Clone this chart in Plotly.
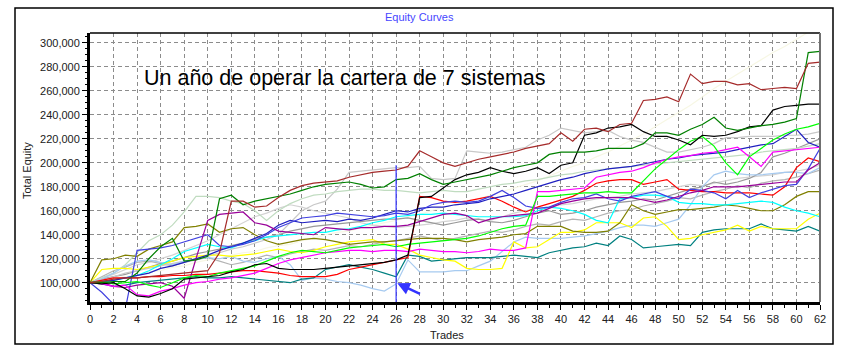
import plotly.graph_objects as go

TRADES = list(range(63))

# equity values in thousands, one value per trade 0..62
dark_red = [100,101,103,104,104,105,106,107,108,109,
            110,125,168,168,163,164,171,177,181,183,
            184,185,188,190,192,193,194,197,210,205,
            200,197,200,203,205,207,209,212,214,216,
            225,218,228,229,226,232,233,252,253,255,
            251,274,266,268,268,265,266,261,262,263,
            262,283,284]
dark_green = [100,100,101,101,108,120,130,137,118,119,
              122,170,173,165,168,170,172,174,177,180,
              182,183,184,182,179,180,186,187,191,186,
              182,184,186,188,190,193,196,198,200,207,
              209,209,209,210,212,212,212,216,225,225,
              223,228,232,238,229,227,229,231,232,234,
              237,292,293]
black = [100,99,100,95,89,88,91,95,103,104,
         105,106,109,111,115,116,112,111,111,111,
         112,113,114,115,116,117,119,123,171,172,
         179,186,190,192,196,193,191,193,196,191,
         198,200,223,225,229,230,232,226,222,222,
         219,215,223,222,223,226,230,231,244,247,
         248,249,249]
lime = [100,101,99,100,101,98,96,100,104,106,
        105,108,110,112,114,118,122,125,127,126,
        125,127,129,130,131,132,130,132,133,134,
        135,136,137,139,142,145,147,148,172,172,
        173,174,175,175,176,175,175,185,195,203,
        211,218,222,214,200,190,205,212,219,224,
        228,230,233]
magenta = [100,99,97,98,90,89,93,95,98,100,
           101,103,104,106,108,112,116,119,121,123,
           125,126,127,127,126,127,127,126,128,127,
           126,126,125,126,128,127,127,129,176,176,
           177,178,179,188,190,192,193,196,200,203,
           205,206,208,209,211,213,205,197,209,210,
           211,212,213]
purple = [100,100,97,96,98,99,100,97,87,120,
          152,157,158,159,150,148,143,142,141,140,
          146,145,144,146,146,147,147,148,151,154,
          157,158,156,150,153,155,156,157,158,162,
          166,168,170,171,171,171,171,169,167,169,
          172,175,177,180,180,180,181,182,183,184,
          184,194,200]
indigo = [100,92,82,78,127,128,129,131,134,137,
          140,131,130,132,135,140,146,150,154,155,
          156,158,157,156,155,156,158,157,160,165,
          167,168,167,168,172,177,171,164,162,163,
          167,170,171,174,170,168,172,174,176,172,
          170,178,177,175,170,177,171,175,178,181,
          182,195,212]
navy = [100,101,102,104,106,108,112,114,117,120,
        123,127,130,133,137,141,148,152,150,151,
        152,151,153,152,154,157,160,159,162,163,
        163,165,166,167,170,172,174,177,180,183,
        186,188,191,193,195,196,197,199,201,203,
        204,206,207,208,209,211,213,215,216,222,
        228,217,213]
red = [100,102,104,104,104,105,105,106,106,107,
       107,108,109,110,110,109,108,106,105,105,
       105,107,111,113,115,117,119,121,172,171,
       168,167,168,170,172,168,163,159,163,166,
       169,172,177,183,185,186,186,182,184,186,
       178,177,176,176,175,175,175,174,173,180,
       196,204,201]
cyan = [100,101,102,104,106,110,115,120,126,129,
        132,130,129,133,135,138,139,140,141,142,
        142,144,145,147,150,152,155,156,157,157,
        158,157,156,155,155,155,155,156,160,163,
        162,160,157,152,150,170,171,173,173,172,
        167,166,166,165,165,166,167,168,167,163,
        160,158,155]
olive = [100,119,120,123,122,128,131,134,146,147,
         149,142,145,146,140,135,132,134,136,137,
         136,134,132,133,134,134,135,136,137,137,
         137,136,134,136,137,138,140,141,147,147,
         147,143,142,142,143,150,165,160,157,159,
         161,161,162,163,165,164,162,160,160,165,
         172,176,176]
teal = [100,99,97,98,100,101,102,103,104,105,
        104,104,105,104,103,102,101,100,103,104,
        111,113,115,113,111,108,105,123,122,118,
        119,120,121,121,121,122,123,122,121,125,
        127,129,130,133,131,139,136,129,130,131,
        132,131,142,144,145,145,145,149,145,144,
        143,147,143]
yellow = [100,111,112,112,111,113,115,118,121,122,
          123,123,122,123,124,126,128,126,125,127,
          130,132,134,135,136,132,132,128,123,121,
          119,118,112,111,111,112,134,129,130,136,
          142,142,144,150,150,150,146,154,155,147,
          136,137,140,142,144,148,143,147,145,145,
          145,153,158]
light_blue = [100,103,108,114,118,119,117,115,118,120,
              121,120,122,118,117,120,122,115,102,104,
              103,101,100,98,95,93,99,119,109,109,
              109,110,110,114,118,126,134,138,137,137,
              137,138,139,141,143,146,148,148,147,150,
              153,165,180,190,193,191,190,190,191,192,
              192,191,196]
pale_green = [100,104,108,115,125,135,140,148,159,172,
              172,171,168,166,160,152,160,166,170,173,
              174,176,177,178,178,177,177,176,175,176,
              177,176,176,178,180,182,183,185,186,188,
              190,191,193,194,195,196,197,198,199,200,
              201,202,203,204,205,206,207,209,210,211,
              212,214,216]
light_gray = [100,102,105,108,110,112,114,116,118,120,
              122,125,128,130,133,136,140,150,160,165,
              168,178,192,193,194,195,196,196,197,187,
              186,187,210,209,208,209,211,213,219,223,
              229,227,225,226,227,222,219,217,213,209,
              209,211,213,216,221,221,222,222,222,223,
              223,224,226]
gray = [100,103,105,107,110,113,116,118,121,124,
        126,128,131,133,136,138,140,143,145,147,
        148,149,150,151,152,153,153,154,152,150,
        148,150,152,153,151,150,152,155,158,160,
        157,158,160,163,165,167,168,170,169,172,
        175,178,180,184,182,184,187,192,205,208,
        212,216,220]
gray_c = [100,105,110,113,117,118,116,114,117,119,
          121,118,115,117,120,123,121,124,126,128,
          127,129,131,130,132,134,135,137,139,137,
          135,137,139,141,143,142,144,147,149,148,
          151,153,152,155,158,160,161,164,166,168,
          171,170,173,176,178,181,179,183,185,186,
          188,191,194]
silver = [100,104,107,111,115,117,120,123,127,131,
          135,140,145,150,155,158,162,165,163,160,
          158,156,154,150,148,147,146,147,148,149,
          151,152,154,153,152,155,158,160,162,163,
          165,166,168,170,171,172,174,175,176,178,
          180,182,181,183,185,187,188,189,190,192,
          193,195,198]
faint = [100,102,103,105,106,109,110,113,114,117,
         119,120,123,125,126,129,131,132,135,137,
         140,142,143,146,148,150,152,155,157,160,
         163,165,168,170,173,176,179,182,185,189,
         193,197,200,205,209,214,219,224,230,236,
         242,248,255,262,268,274,280,286,292,297,
         303,309,314]

SERIES = [
    (faint, "#F7F7E4"), (silver, "#D3D3D3"), (gray_c, "#B4B4B4"), (gray, "#999999"),
    (light_gray, "#C8C8C8"), (pale_green, "#C0DCC0"), (light_blue, "#A6CAF0"),
    (teal, "#008080"), (yellow, "#FFFF00"), (olive, "#808000"), (cyan, "#00FFFF"),
    (red, "#FF0000"), (navy, "#2020C0"), (indigo, "#4040E0"), (purple, "#990099"),
    (magenta, "#FF00FF"), (lime, "#00FF00"), (black, "#000000"),
    (dark_green, "#008000"), (dark_red, "#A52A2A"),
]

fig = go.Figure()
for vals, col in SERIES:
    fig.add_trace(go.Scatter(x=TRADES, y=[v * 1000 for v in vals], mode="lines",
                             line=dict(color=col, width=1.2), showlegend=False,
                             hoverinfo="skip"))

FONT = "Liberation Sans, Arial, sans-serif"
W, H = 853, 355
L, R, T, B = 90, 33, 33, 53
pw, ph = W - L - R, H - T - B

def px(xp):
    return (xp - L) / pw

def py(yp):
    return (H - B - yp) / ph

fig.update_layout(
    width=W, height=H,
    margin=dict(l=L, r=R, t=T, b=B),
    paper_bgcolor="white", plot_bgcolor="white",
    font=dict(family=FONT, size=11, color="#202020"),
    showlegend=False,
    xaxis=dict(range=[0, 62], dtick=2, tick0=0, showgrid=True, gridcolor="#8c8c8c",
               griddash="4px,3px", gridwidth=1, zeroline=False, showline=True,
               linecolor="black", linewidth=3, ticks="outside", ticklen=5,
               tickcolor="black", tickfont=dict(size=11, family=FONT, color="#202020"),
               minor=dict(dtick=1, ticks="outside", ticklen=3, tickcolor="black", showgrid=False)),
    yaxis=dict(range=[83900, 308300], dtick=20000, tick0=100000, tickformat=",d",
               showgrid=True, gridcolor="#8c8c8c", griddash="4px,3px", gridwidth=1,
               zeroline=False, showline=True, linecolor="black", linewidth=3,
               ticks="outside", ticklen=5, tickcolor="black",
               tickfont=dict(size=11, family=FONT, color="#202020"),
               minor=dict(dtick=5000, ticks="outside", ticklen=2, tickcolor="black", showgrid=False)),
)

# frame, top and right borders
fig.add_shape(type="rect", xref="paper", yref="paper", x0=px(15), x1=px(833),
              y0=py(344), y1=py(8), line=dict(color="black", width=1.5), layer="above")
fig.add_shape(type="line", xref="paper", yref="paper", x0=0, x1=1, y0=1, y1=1,
              line=dict(color="black", width=1.5))
fig.add_shape(type="line", xref="paper", yref="paper", x0=1, x1=1, y0=0, y1=1,
              line=dict(color="#707070", width=2))

# vertical marker at trade 26
fig.add_shape(type="line", xref="x", yref="y", x0=26, x1=26, y0=83900, y1=198000,
              line=dict(color="#3333FF", width=1.2))

# arrow
fig.add_annotation(x=26.1, y=99500, ax=28.15, ay=90000, xref="x", yref="y",
                   axref="x", ayref="y", text="", showarrow=True, arrowhead=2,
                   arrowsize=1, arrowwidth=2.5, arrowcolor="#3333FF")

# texts
fig.add_annotation(x=4.45, y=271000, xref="x", yref="y", text="Un año de operar la cartera de 7 sistemas",
                   showarrow=False, xanchor="left", yanchor="middle",
                   font=dict(family=FONT, size=21.5, color="black"))
fig.add_annotation(x=px(419), y=py(17), xref="paper", yref="paper", text="Equity Curves",
                   showarrow=False, xanchor="center", yanchor="middle",
                   font=dict(family=FONT, size=11, color="#4646FF"))
fig.add_annotation(x=px(27), y=py(170), xref="paper", yref="paper", text="Total Equity",
                   showarrow=False, textangle=-90, xanchor="center", yanchor="middle",
                   font=dict(family=FONT, size=11, color="#202020"))
fig.add_annotation(x=px(447), y=py(335), xref="paper", yref="paper", text="Trades",
                   showarrow=False, xanchor="center", yanchor="middle",
                   font=dict(family=FONT, size=11, color="#202020"))

fig.write_html("out.html")
